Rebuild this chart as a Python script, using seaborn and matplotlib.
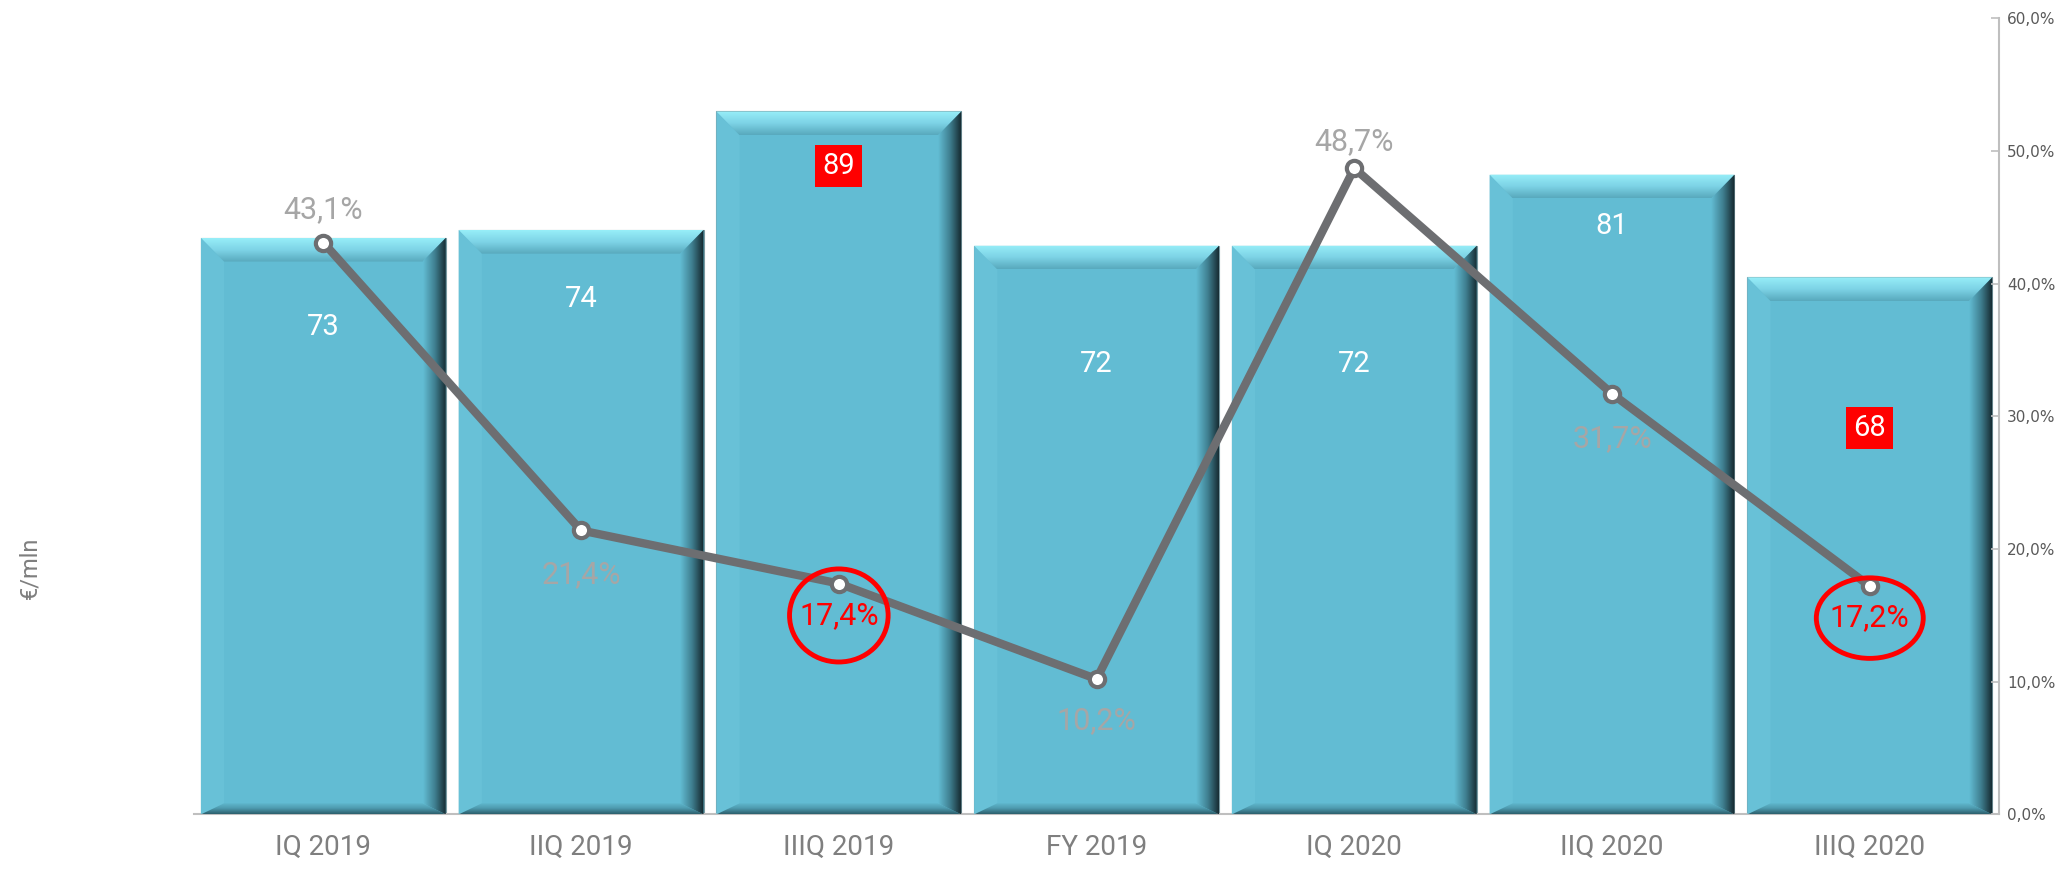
import numpy as np
import matplotlib
matplotlib.use("Agg")
import matplotlib.pyplot as plt
import seaborn as sns
from matplotlib.patches import Polygon, Ellipse
from matplotlib.colors import LinearSegmentedColormap
from matplotlib.offsetbox import DrawingArea, AnnotationBbox

# data
categories = ["IQ 2019", "IIQ 2019", "IIIQ 2019", "FY 2019", "IQ 2020", "IIQ 2020", "IIIQ 2020"]
values = [73, 74, 89, 72, 72, 81, 68]
pct = [43.1, 21.4, 17.4, 10.2, 48.7, 31.7, 17.2]
highlight = ["IIIQ 2019", "IIIQ 2020"]

# label placement (layout only)
value_label_y = [61.7, 65.2, 82.1, 57.0, 57.0, 74.5, 48.9]
pct_label_dy = [24, -32, -23, -30, 19, -32, -23]
ring_size = {"IIIQ 2019": (71, 67), "IIIQ 2020": (77, 58)}  # points

sns.set_style("white")
plt.rcParams['font.family'] = ['Roboto', 'DejaVu Sans']

face = "#62BCD3"
grey_txt = "#7F7F7F"
pct_txt = "#A6A6A6"

fig = plt.figure(figsize=(20.69, 8.71), dpi=100)
ax = fig.add_axes([0.094, 0.065, 0.872, 0.914])

sns.barplot(x=categories, y=values, ax=ax, color=face, saturation=1, width=0.95,
            edgecolor="#7a9aa2", linewidth=0.8, zorder=2)

# bevel effect on each bar
right_cmap = LinearSegmentedColormap.from_list("edge", [face, "#3f7f90", "#14262c"])
top_cmap = LinearSegmentedColormap.from_list("top", ["#97EEF8", "#7DD3E6", "#58A9BD"])
bot_cmap = LinearSegmentedColormap.from_list("bot", ["#2c5f6d", "#4f9cb0", face])
hgrad = np.linspace(0, 1, 64).reshape(1, -1)
vgrad = np.linspace(0, 1, 64).reshape(-1, 1)
dx, dy_top, dy_bot = 0.09, 3.0, 1.4
for p in list(ax.patches):
    x0, w, h = p.get_x(), p.get_width(), p.get_height()
    x1 = x0 + w
    top = Polygon([(x0, h), (x1, h), (x1 - dx, h - dy_top), (x0 + dx, h - dy_top)],
                  closed=True, fc="none", ec="none")
    left = Polygon([(x0, 0), (x0, h), (x0 + dx, h - dy_top), (x0 + dx, dy_bot)],
                   closed=True, fc="#68C1D7", ec="none", zorder=3)
    bottom = Polygon([(x0, 0), (x1, 0), (x1 - dx, dy_bot), (x0 + dx, dy_bot)],
                     closed=True, fc="none", ec="none")
    right = Polygon([(x1, 0), (x1, h), (x1 - dx, h - dy_top), (x1 - dx, dy_bot)],
                    closed=True, fc="none", ec="none")
    for poly in (top, left, bottom, right):
        ax.add_patch(poly)
    im = ax.imshow(hgrad, extent=[x1 - dx, x1, 0, h], aspect="auto", cmap=right_cmap,
                   zorder=3.5)
    im.set_clip_path(right)
    im = ax.imshow(vgrad, extent=[x0, x1, h - dy_top, h], aspect="auto", cmap=top_cmap,
                   origin="upper", zorder=3.4)
    im.set_clip_path(top)
    im = ax.imshow(vgrad, extent=[x0, x1, 0, dy_bot], aspect="auto", cmap=bot_cmap,
                   origin="lower", zorder=3.4)
    im.set_clip_path(bottom)

n = len(categories)
ax.set_xlim(-0.5, n - 0.5)
ax.set_ylim(0, 100.8)

for i, (v, ly, c) in enumerate(zip(values, value_label_y, categories)):
    box = dict(boxstyle="square,pad=0.25", fc="red", ec="none") if c in highlight else None
    ax.text(i, ly, str(v), ha="center", va="center", color="white", fontsize=21,
            zorder=5, bbox=box)

ax.set_yticks([])
ax.set_ylabel("€/mln", color=grey_txt, fontsize=17)
ax.yaxis.set_label_coords(-0.085, 0.31)
for s in ["top", "left", "right"]:
    ax.spines[s].set_visible(False)
ax.spines["bottom"].set_color("#BFBFBF")
ax.spines["bottom"].set_linewidth(1.5)
ax.set_xticks(range(n))
ax.set_xticklabels(categories)
ax.tick_params(axis="x", length=0, pad=14, labelsize=20, labelcolor=grey_txt)
ax.set_xticks(np.arange(-0.5, n, 1), minor=True)
ax.tick_params(axis="x", which="minor", length=10, width=1.5, color="#BFBFBF", direction="out")

# percentage line on the right axis
ax2 = ax.twinx()
xs = list(range(n))
sns.lineplot(x=xs, y=pct, ax=ax2, color="#6D6E71", lw=6, marker="o", markersize=11,
             markerfacecolor="white", markeredgecolor="#6D6E71", markeredgewidth=3,
             zorder=5, sort=False)
ax2.set_ylim(0, 60)
ax2.set_yticks(np.arange(0, 61, 10))
ax2.set_yticklabels([f"{t:.1f}".replace(".", ",") + "%" for t in np.arange(0, 61, 10)])
ax2.tick_params(axis="y", direction="in", length=6, width=1.2, color="#BFBFBF",
                labelsize=11, labelcolor="#595959", pad=6)
for lab in ax2.get_yticklabels():
    lab.set_family("DejaVu Sans")
for s in ["top", "left", "bottom"]:
    ax2.spines[s].set_visible(False)
ax2.spines["right"].set_color("#BFBFBF")
ax2.spines["right"].set_linewidth(1.5)

for i, (v, d, c) in enumerate(zip(pct, pct_label_dy, categories)):
    txt = f"{v:.1f}".replace(".", ",") + "%"
    if c in highlight:
        ax2.annotate(txt, (i, v), xytext=(0, d), textcoords="offset points",
                     ha="center", va="center", color="red", fontsize=22, zorder=6)
        rw, rh = ring_size[c]
        da = DrawingArea(rw, rh, 0, 0)
        da.add_artist(Ellipse((rw / 2, rh / 2), rw, rh, fc="none", ec="red", lw=3.5))
        ab = AnnotationBbox(da, (i, v), xybox=(0, d), boxcoords="offset points",
                            frameon=False, pad=0, zorder=6)
        ax2.add_artist(ab)
    else:
        ax2.annotate(txt, (i, v), xytext=(0, d), textcoords="offset points",
                     ha="center", va="center", color=pct_txt, fontsize=22, zorder=4)

fig.savefig("out.png", dpi=100)
